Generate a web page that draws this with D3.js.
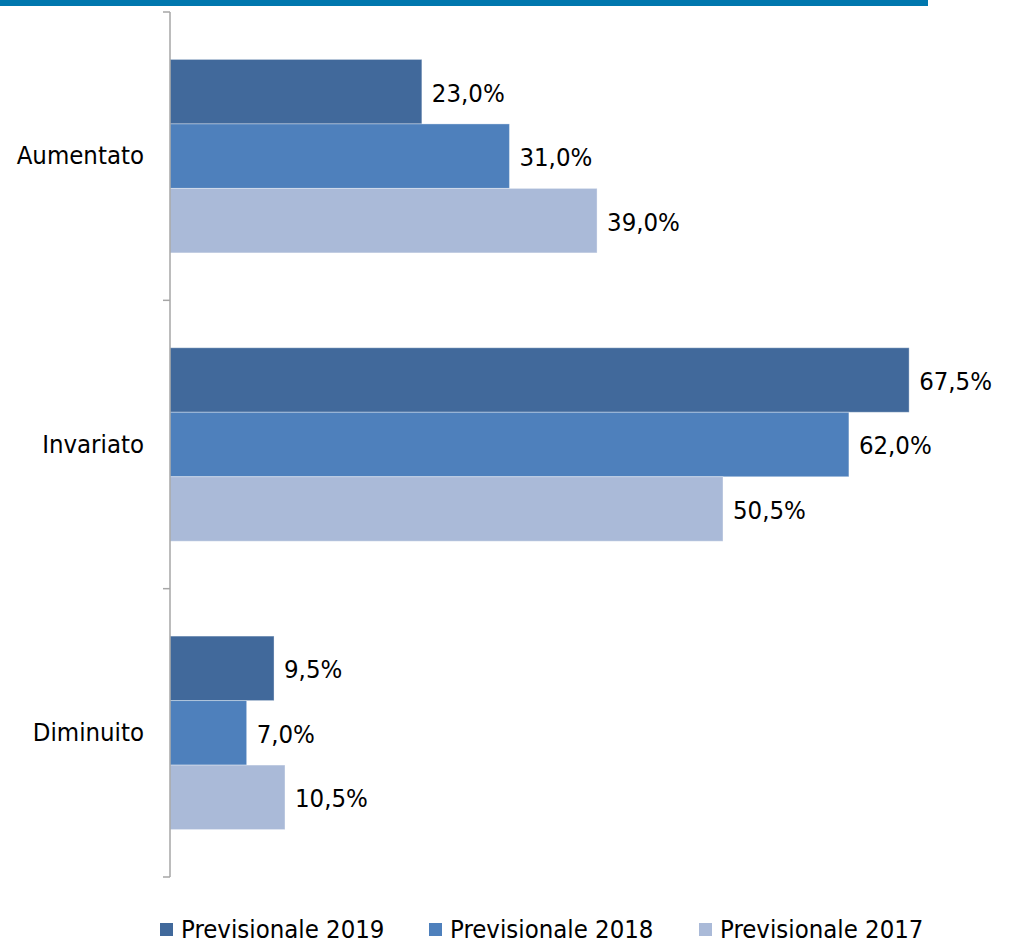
<!DOCTYPE html>
<html>
<head>
<meta charset="utf-8">
<script src="https://cdn.jsdelivr.net/npm/d3@7"></script>
<style>
  html, body { margin: 0; padding: 0; background: #fff; }
  svg { display: block; }
  text { font-family: "DejaVu Sans Condensed", "DejaVu Sans", sans-serif; font-stretch: condensed; fill: #000; }
</style>
</head>
<body>
<svg id="chart" width="1009" height="943"></svg>
<script>
// Categories (top to bottom) and series
const categories = ["Aumentato", "Invariato", "Diminuito"];
const seriesNames = ["Previsionale 2019", "Previsionale 2018", "Previsionale 2017"];
const values2019 = [23.0, 67.5, 9.5];
const values2018 = [31.0, 62.0, 7.0];
const values2017 = [39.0, 50.5, 10.5];
const seriesColors = ["#41699B", "#4E80BC", "#AABAD8"];

const seriesValues = [values2019, values2018, values2017];
const fontSize = 25.5;

const svg = d3.select("#chart");

// Header rule across the top
svg.append("rect")
  .attr("x", 0).attr("y", 0)
  .attr("width", 928).attr("height", 6)
  .attr("fill", "#0077AE");

const y = d3.scaleBand()
  .domain(categories)
  .range([12, 877])
  .paddingInner(0.329)
  .paddingOuter(0.1645);

const ySeries = d3.scaleBand()
  .domain(seriesNames)
  .range([0, y.bandwidth()]);

const x = d3.scaleLinear()
  .domain([0, 80])
  .range([170, 1046]);

const fmt = v => d3.format(".1f")(v).replace(".", ",") + "%";

// Bars
const groups = svg.append("g").selectAll("g")
  .data(categories)
  .join("g")
  .attr("transform", d => `translate(0,${y(d)})`);

groups.selectAll("rect")
  .data((c, i) => seriesNames.map((s, j) => ({ series: s, value: seriesValues[j][i], color: seriesColors[j] })))
  .join("rect")
  .attr("x", x(0))
  .attr("y", d => ySeries(d.series))
  .attr("width", d => x(d.value) - x(0))
  .attr("height", ySeries.bandwidth())
  .attr("fill", d => d.color)
  .attr("stroke", "rgba(255,255,255,0.35)")
  .attr("stroke-width", 1);

// Value labels
groups.selectAll("text")
  .data((c, i) => seriesNames.map((s, j) => ({ series: s, value: seriesValues[j][i] })))
  .join("text")
  .attr("x", d => x(d.value) + 10)
  .attr("y", d => ySeries(d.series) + ySeries.bandwidth() / 2 + 3)
  .attr("dominant-baseline", "middle")
  .attr("font-size", fontSize)
  .text(d => fmt(d.value));

// Category axis
const yAxis = d3.axisLeft(y)
  .tickSize(0)
  .tickPadding(26);

const axisG = svg.append("g")
  .attr("transform", `translate(${x(0)},0)`)
  .call(yAxis);
axisG.select(".domain").remove();
axisG.selectAll("text")
  .attr("font-size", fontSize)
  .attr("font-family", null);

// Axis line with tick marks on band boundaries
const boundaries = categories.map(c => y(c) - y.step() * y.paddingInner() / 2)
  .concat([y(categories[categories.length - 1]) + y.bandwidth() + y.step() * y.paddingInner() / 2]);
svg.append("line")
  .attr("x1", x(0)).attr("x2", x(0))
  .attr("y1", boundaries[0]).attr("y2", boundaries[boundaries.length - 1])
  .attr("stroke", "#A6A6A6").attr("stroke-width", 1.5);
svg.append("g").selectAll("line")
  .data(boundaries)
  .join("line")
  .attr("x1", x(0) - 7).attr("x2", x(0))
  .attr("y1", d => d).attr("y2", d => d)
  .attr("stroke", "#A6A6A6").attr("stroke-width", 1.5);

// Legend
const legendX = [160, 429, 699];
const legend = svg.append("g").selectAll("g")
  .data(seriesNames)
  .join("g")
  .attr("transform", (d, i) => `translate(${legendX[i]},930)`);
legend.append("rect")
  .attr("x", 0).attr("y", -7)
  .attr("width", 13).attr("height", 13)
  .attr("fill", (d, i) => seriesColors[i]);
legend.append("text")
  .attr("x", 21).attr("y", 1)
  .attr("dominant-baseline", "middle")
  .attr("font-size", fontSize)
  .text(d => d);
</script>
</body>
</html>
